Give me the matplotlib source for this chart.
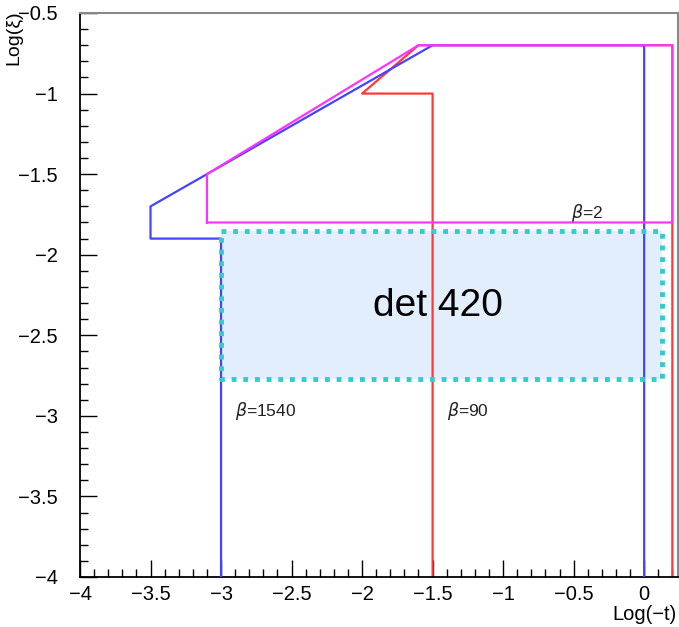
import matplotlib
matplotlib.use('agg')
import matplotlib.pyplot as plt
from matplotlib.ticker import MultipleLocator, FuncFormatter

plt.rcParams['font.family'] = ['Liberation Sans', 'DejaVu Sans']

# acceptance contours, Log(-t) vs Log(xi)
blue_x = [-3.0, -3.0, -3.5, -3.5, -1.5, 0.0, 0.0]
blue_y = [-4.0, -1.9, -1.9, -1.7, -0.7, -0.7, -4.0]
red_x = [-1.5, -1.5, -2.0, -1.6, 0.2, 0.2]
red_y = [-4.0, -1.0, -1.0, -0.7, -0.7, -4.0]
mag_x = [-3.1, -3.1, -1.6, 0.2, 0.2, -3.1]
mag_y = [-1.8, -1.5, -0.7, -0.7, -1.8, -1.8]

# detector 420 region
det_x = [-3.0, 0.13]
det_y = [-2.77, -1.85]

labels = [r'$\beta$=2', r'$\beta$=1540', r'$\beta$=90']
label_x = [-0.52, -2.9, -1.4]
label_y = [-1.74, -2.97, -2.97]

fig = plt.figure(figsize=(6.79, 6.27), dpi=100)
ax = fig.add_axes([80/679, 1-577/627, 598/679, 564/627])

ax.fill_between(det_x, det_y[0], det_y[1], color='#e3eefc', lw=0, zorder=1)

ax.plot(red_x, red_y, color='#ff3838', lw=1.6, zorder=2)
ax.plot(blue_x, blue_y, color='#4444ff', lw=1.6, zorder=3)
ax.plot(mag_x, mag_y, color='#ff33ff', lw=1.6, zorder=4)

bx = [det_x[0], det_x[1], det_x[1], det_x[0], det_x[0]]
by = [det_y[1], det_y[1], det_y[0], det_y[0], det_y[1]]
ax.plot(bx, by, color='#33cccc', lw=3.5, linestyle=(0, (1, 1.4)), zorder=5)

ax.text((det_x[0]+det_x[1])/2 - 0.03, -2.32, 'det 420', fontsize=28,
        ha='center', va='center', zorder=6)

for t, x, y in zip(labels, label_x, label_y):
    ax.text(x, y, t, fontsize=12.5, ha='left', va='center', color='#222222')

ax.set_xlim(-4, 0.24)
ax.set_ylim(-4, -0.5)

ax.xaxis.set_major_locator(MultipleLocator(0.5))
ax.xaxis.set_minor_locator(MultipleLocator(0.1))
ax.yaxis.set_major_locator(MultipleLocator(0.5))
ax.yaxis.set_minor_locator(MultipleLocator(0.1))
fmt = FuncFormatter(lambda v, p: ('%g' % v).replace('-', '\u2212'))
ax.xaxis.set_major_formatter(fmt)
ax.yaxis.set_major_formatter(fmt)
ax.tick_params(which='major', direction='in', length=12, width=1, labelsize=14.5)
ax.tick_params(which='minor', direction='in', length=6, width=1)
ax.tick_params(axis='y', pad=16)
ax.tick_params(axis='x', pad=6)

ax.spines['left'].set_linewidth(1.3)
ax.spines['bottom'].set_linewidth(1.3)
ax.spines['top'].set_color('#888888')
ax.spines['right'].set_color('#888888')
ax.spines['top'].set_linewidth(1.5)
ax.spines['right'].set_linewidth(1.5)

fig.text(14/679, 1-10/627, 'Log(\u03be)', rotation=90, ha='center', va='top', fontsize=14)
fig.text(677/679, 1-615/627, 'Log(\u2212t)', ha='right', va='center', fontsize=14.5)

fig.savefig('out.png', dpi=100)
